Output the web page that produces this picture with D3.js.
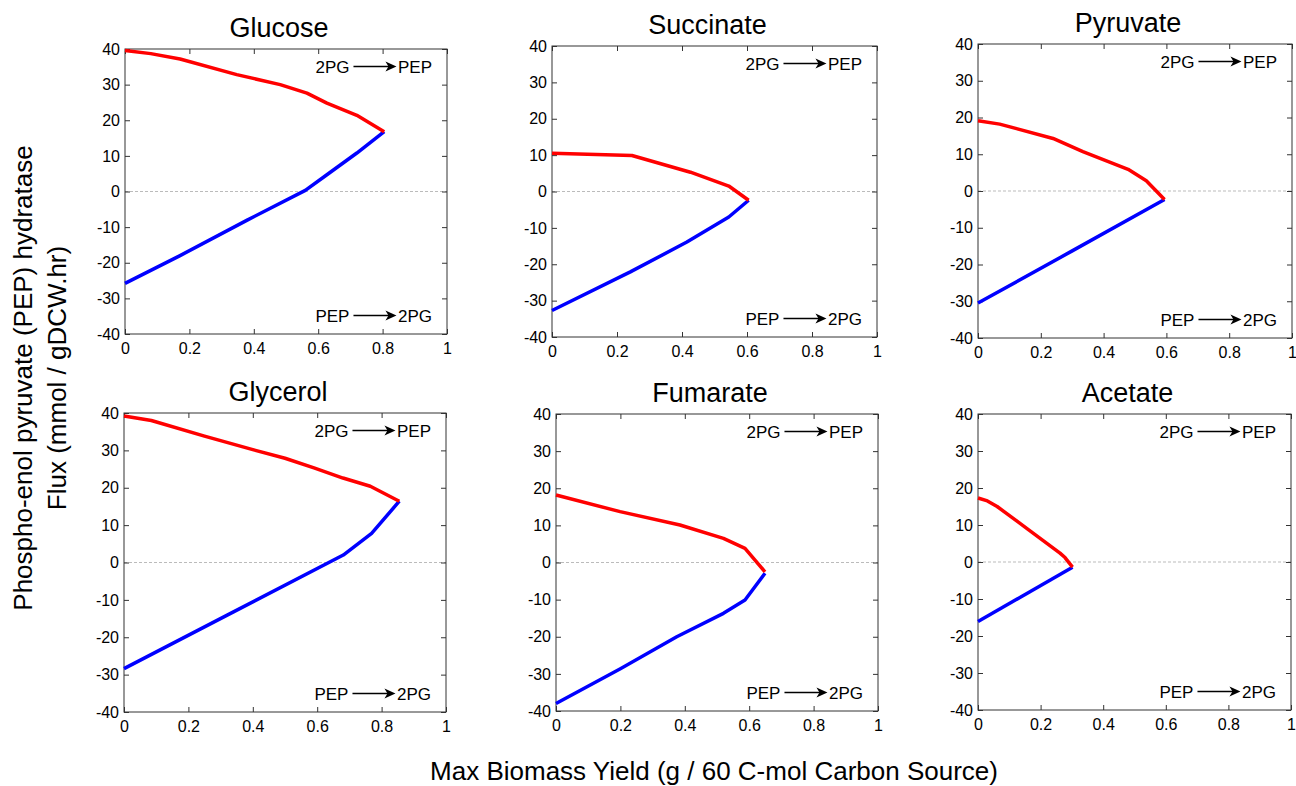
<!DOCTYPE html>
<html>
<head>
<meta charset="utf-8">
<script src="https://cdn.jsdelivr.net/npm/d3@7"></script>
<style>
  body { margin: 0; background: #fff; }
  svg { font-family: "Liberation Sans", Arial, Helvetica, sans-serif; }
  .axis line { stroke: #333; }
</style>
</head>
<body>
<div id="chart"></div>
<script>
// substrate panels, in reading order
const substrates = ["Glucose", "Succinate", "Pyruvate", "Glycerol", "Fumarate", "Acetate"];

// [max biomass yield, PEP hydratase flux]
// red = upper bound, blue = lower bound
const glucoseRed   = [[0, 39.6], [0.08, 38.7], [0.171, 37.2], [0.347, 32.8], [0.482, 30.0], [0.565, 27.6], [0.627, 24.8], [0.72, 21.4], [0.805, 16.8]];
const glucoseBlue  = [[0, -25.8], [0.171, -18.0], [0.378, -8.1], [0.56, 0.3], [0.627, 4.7], [0.72, 10.8], [0.805, 16.8]];
const succinateRed  = [[0, 10.5], [0.246, 9.9], [0.426, 5.3], [0.544, 1.5], [0.605, -2.4]];
const succinateBlue = [[0, -32.7], [0.241, -22.1], [0.415, -13.9], [0.544, -7.0], [0.605, -2.4]];
const pyruvateRed  = [[0, 19.1], [0.069, 18.2], [0.239, 14.3], [0.334, 10.7], [0.478, 5.9], [0.536, 2.8], [0.594, -2.3]];
const pyruvateBlue = [[0, -30.5], [0.3, -16.3], [0.594, -2.3]];
const glycerolRed  = [[0, 39.2], [0.085, 38.0], [0.25, 33.8], [0.40, 30.2], [0.50, 27.9], [0.59, 25.3], [0.68, 22.6], [0.765, 20.4], [0.855, 16.4]];
const glycerolBlue = [[0, -28.4], [0.34, -13.2], [0.681, 2.0], [0.769, 7.8], [0.855, 16.4]];
const fumarateRed  = [[0, 18.2], [0.199, 13.7], [0.385, 10.1], [0.52, 6.5], [0.587, 3.8], [0.649, -2.5]];
const fumarateBlue = [[0, -38.0], [0.2, -28.6], [0.375, -20.0], [0.52, -13.7], [0.587, -10.1], [0.649, -2.9]];
const acetateRed  = [[0, 17.3], [0.03, 16.5], [0.061, 15.0], [0.162, 8.7], [0.262, 2.4], [0.278, 1.2], [0.302, -1.4]];
const acetateBlue = [[0, -16.1], [0.302, -1.4]];

const redCurves  = [glucoseRed, succinateRed, pyruvateRed, glycerolRed, fumarateRed, acetateRed];
const blueCurves = [glucoseBlue, succinateBlue, pyruvateBlue, glycerolBlue, fumarateBlue, acetateBlue];

const xTicks = [0, 0.2, 0.4, 0.6, 0.8, 1];
const yTicks = [-40, -30, -20, -10, 0, 10, 20, 30, 40];
const fwdLabel = ["2PG", "PEP"];
const revLabel = ["PEP", "2PG"];
const xTitle = "Max Biomass Yield (g / 60 C-mol Carbon Source)";
const yTitle = ["Phospho-enol pyruvate (PEP) hydratase", "Flux (mmol / gDCW.hr)"];

const width = 1296, height = 786;
const font = '"Liberation Sans", Arial, Helvetica, sans-serif';

// plot boxes (pixels)
const boxes = [
  {x: 125, y: 49, w: 322, h: 285},
  {x: 552, y: 46, w: 325, h: 291},
  {x: 978, y: 44, w: 314, h: 294},
  {x: 124, y: 413, w: 322, h: 299},
  {x: 556, y: 414, w: 322, h: 297},
  {x: 978, y: 414, w: 313, h: 296}
];

const svg = d3.select("#chart").append("svg")
  .attr("width", width)
  .attr("height", height);

function arrowLabel(g, pair, xr, yb) {
  const tR = g.append("text")
    .attr("x", xr).attr("y", yb)
    .attr("text-anchor", "end")
    .attr("font-size", 17)
    .text(pair[1]);
  const wR = tR.node().getComputedTextLength();
  const tip = xr - wR - 1.5;
  const start = tip - 43;
  const ay = yb - 6.5;
  g.append("line")
    .attr("x1", start).attr("x2", tip - 6)
    .attr("y1", ay).attr("y2", ay)
    .attr("stroke", "#000").attr("stroke-width", 1.3);
  g.append("path")
    .attr("d", `M${tip},${ay} L${tip - 11},${ay - 5} L${tip - 8},${ay} L${tip - 11},${ay + 5} Z`)
    .attr("fill", "#000");
  g.append("text")
    .attr("x", start - 4).attr("y", yb)
    .attr("text-anchor", "end")
    .attr("font-size", 17)
    .text(pair[0]);
}

function styleAxis(a) {
  a.select(".domain").remove();
  a.attr("font-size", 16).attr("font-family", font);
  a.selectAll("text").attr("fill", "#000");
}

substrates.forEach((name, i) => {
  const b = boxes[i];
  const g = svg.append("g").attr("transform", `translate(${b.x},${b.y})`);

  const x = d3.scaleLinear().domain([0, 1]).range([0, b.w]);
  const y = d3.scaleLinear().domain([-40, 40]).range([b.h, 0]);

  // zero line
  g.append("line")
    .attr("x1", 0).attr("x2", b.w)
    .attr("y1", y(0)).attr("y2", y(0))
    .attr("stroke", "#aaa")
    .attr("stroke-width", 0.8)
    .attr("stroke-dasharray", "3,2");

  // axes, ticks pointing inward
  g.append("g").attr("class", "axis")
    .call(d3.axisLeft(y).tickValues(yTicks).tickFormat(d => d)
      .tickSizeInner(-5).tickSizeOuter(0).tickPadding(5))
    .call(styleAxis);
  g.append("g").attr("class", "axis")
    .attr("transform", `translate(0,${b.h})`)
    .call(d3.axisBottom(x).tickValues(xTicks).tickFormat(d => d)
      .tickSizeInner(-5).tickSizeOuter(0).tickPadding(9))
    .call(styleAxis);
  g.append("g").attr("class", "axis")
    .call(d3.axisTop(x).tickValues(xTicks).tickFormat("")
      .tickSizeInner(-5).tickSizeOuter(0))
    .call(styleAxis);
  g.append("g").attr("class", "axis")
    .attr("transform", `translate(${b.w},0)`)
    .call(d3.axisRight(y).tickValues(yTicks).tickFormat("")
      .tickSizeInner(-5).tickSizeOuter(0))
    .call(styleAxis);

  g.append("rect")
    .attr("width", b.w).attr("height", b.h)
    .attr("fill", "none")
    .attr("stroke", "#333")
    .attr("stroke-width", 1);

  const line = d3.line().x(d => x(d[0])).y(d => y(d[1]));

  g.append("path")
    .datum(blueCurves[i])
    .attr("d", line)
    .attr("fill", "none")
    .attr("stroke", "#0000ff")
    .attr("stroke-width", 3.5)
    .attr("stroke-linejoin", "round");

  g.append("path")
    .datum(redCurves[i])
    .attr("d", line)
    .attr("fill", "none")
    .attr("stroke", "#ff0000")
    .attr("stroke-width", 3.5)
    .attr("stroke-linejoin", "round");

  // direction labels
  arrowLabel(g, fwdLabel, b.w - 15, 24);
  arrowLabel(g, revLabel, b.w - 15, b.h - 12);

  g.append("text")
    .attr("x", b.w / 2 - 7).attr("y", -12)
    .attr("text-anchor", "middle")
    .attr("font-size", 27)
    .text(name);
});

svg.append("text")
  .attr("x", 714).attr("y", 780)
  .attr("text-anchor", "middle")
  .attr("font-size", 26)
  .text(xTitle);

svg.append("text")
  .attr("transform", "translate(32,378) rotate(-90)")
  .attr("text-anchor", "middle")
  .attr("font-size", 26)
  .text(yTitle[0]);

svg.append("text")
  .attr("transform", "translate(66,378) rotate(-90)")
  .attr("text-anchor", "middle")
  .attr("font-size", 26)
  .text(yTitle[1]);
</script>
</body>
</html>
